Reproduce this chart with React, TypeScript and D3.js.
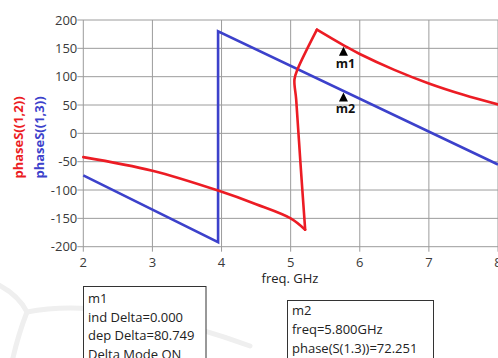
import React from 'react'
import * as d3 from 'd3'

// phase of S(1,2) -- the curve doubles back near 5.2 GHz so it is kept as ordered points
const redFreq = [2, 3, 3.95, 4.5, 5.0, 5.21, 5.14, 5.08, 5.055, 5.1, 5.38, 5.6, 5.8, 6.0, 6.5, 7.0, 7.5, 8.0]
const redPhase = [-42, -66, -101, -125, -150, -170, -49, 60, 95, 113, 183, 167, 153, 140, 112, 88, 68, 51]
// indexes where the trace has a sharp corner
const redCorners = [5, 10]

// phase of S(1,3)
const blueFreq = [2, 3.95, 3.95, 8]
const bluePhase = [-74, -192, 180, -55]

const xTicks = [2, 3, 4, 5, 6, 7, 8]
const yTicks = [-200, -150, -100, -50, 0, 50, 100, 150, 200]

const markerNames = ['m1', 'm2']
const markerFreq = [5.8, 5.8]
const markerPhase = [153, 72.251]

const m1Lines = ['m1', 'ind Delta=0.000', 'dep Delta=80.749', 'Delta Mode ON']
const m2Lines = ['m2', 'freq=5.800GHz', 'phase(S(1.3))=72.251']

const font = '"Open Sans", sans-serif'
const red = '#ec1c24'
const blue = '#3c41cb'
const grid = '#9c9c9c'

export default function App() {
  const width = 498
  const height = 358
  const left = 83.3
  const right = 498
  const top = 20
  const bottom = 246.7

  const x = d3.scaleLinear().domain([2, 8]).range([left, right])
  const y = d3.scaleLinear().domain([-200, 200]).range([bottom, top])

  const line = d3
    .line<[number, number]>()
    .x(d => x(d[0]))
    .y(d => y(d[1]))

  const smooth = d3
    .line<[number, number]>()
    .x(d => x(d[0]))
    .y(d => y(d[1]))
    .curve(d3.curveCatmullRom.alpha(0.5))

  const redPts: [number, number][] = redFreq.map((f, i) => [f, redPhase[i]])
  const cuts = [0, ...redCorners, redPts.length - 1]
  const redPieces = cuts.slice(1).map((c, i) => smooth(redPts.slice(cuts[i], c + 1)) || '')

  const bluePath = line(blueFreq.map((f, i) => [f, bluePhase[i]]))

  return (
    <svg
      width={width}
      height={height}
      style={{ position: 'absolute', left: 0, top: 0, background: '#fff' }}
    >
      {/* faint watermark swoosh */}
      <g fill="none" stroke="#efefef" strokeWidth={5} strokeLinecap="round">
        <path d="M-5,283 Q18,294 27,312 Q18,335 12,362" />
        <path d="M27,312 Q110,296 250,346" />
      </g>

      {/* grid */}
      {xTicks.map(t => (
        <line key={'gx' + t} x1={x(t)} x2={x(t)} y1={top} y2={bottom + 5} stroke={grid} strokeWidth={1} />
      ))}
      {yTicks.map(t => (
        <line key={'gy' + t} x1={left - 6} x2={right} y1={y(t)} y2={y(t)} stroke={grid} strokeWidth={1} />
      ))}

      {/* tick labels */}
      {yTicks.map(t => (
        <text key={'ty' + t} x={left - 6} y={y(t) + 4.5} textAnchor="end" fontFamily={font} fontSize={13} fill="#3a3a3a">
          {t}
        </text>
      ))}
      {xTicks.map(t => (
        <text key={'tx' + t} x={x(t)} y={266.5} textAnchor="middle" fontFamily={font} fontSize={13} fill="#3a3a3a">
          {t}
        </text>
      ))}
      <text x={290} y={283} textAnchor="middle" fontFamily={font} fontSize={13} fill="#222">
        freq. GHz
      </text>

      {/* y axis titles */}
      <text transform="translate(22.5,137.5) rotate(-90)" textAnchor="middle" fontFamily={font} fontSize={13} fontWeight="bold" fill={red}>
        phaseS((1,2))
      </text>
      <text transform="translate(44,137.5) rotate(-90)" textAnchor="middle" fontFamily={font} fontSize={13} fontWeight="bold" fill={blue}>
        phaseS((1,3))
      </text>

      {/* series */}
      <path d={bluePath || ''} fill="none" stroke={blue} strokeWidth={2.6} />
      {redPieces.map((d, i) => (
        <path key={'r' + i} d={d} fill="none" stroke={red} strokeWidth={2.6} strokeLinecap="round" />
      ))}

      {/* markers */}
      {markerNames.map((m, i) => {
        const mx = x(markerFreq[i]) - 2.5
        const my = y(markerPhase[i])
        return (
          <g key={m}>
            <path d={`M${mx},${my} L${mx - 4.5},${my + 9} L${mx + 4.5},${my + 9} Z`} fill="#000" />
            <text x={mx + 2} y={my + 21} textAnchor="middle" fontFamily={font} fontSize={12.5} fontWeight="bold" fill="#111">
              {m}
            </text>
          </g>
        )
      })}

      {/* marker readouts */}
      <rect x={83.5} y={286.5} width={122.5} height={80} fill="#fff" stroke="#333" strokeWidth={1} />
      {m1Lines.map((s, i) => (
        <text key={'a' + i} x={88} y={303 + i * 18.5} fontFamily={font} fontSize={13} fill="#222">
          {s}
        </text>
      ))}
      <rect x={287.5} y={300.5} width={146} height={70} fill="#fff" stroke="#333" strokeWidth={1} />
      {m2Lines.map((s, i) => (
        <text key={'b' + i} x={292} y={315 + i * 19} fontFamily={font} fontSize={13} fill="#222">
          {s}
        </text>
      ))}
    </svg>
  )
}
